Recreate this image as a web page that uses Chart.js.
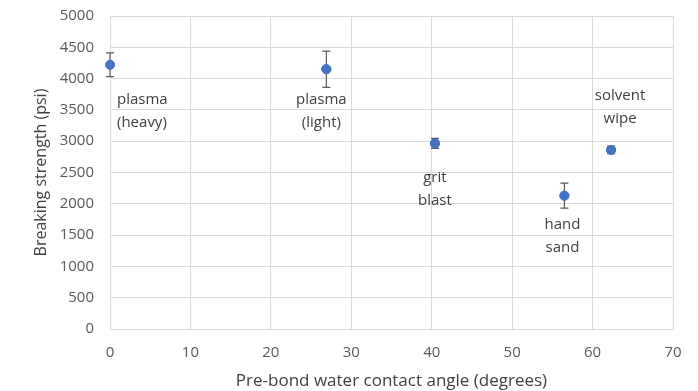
<!DOCTYPE html>
<html>
<head>
<meta charset="utf-8">
<script src="https://cdn.jsdelivr.net/npm/chart.js@4/dist/chart.umd.min.js"></script>
<style>
  html, body { margin: 0; padding: 0; background: #fff; }
  #wrap { width: 698px; height: 391px; }
</style>
</head>
<body>
<div id="wrap"><canvas id="chart" width="698" height="391"></canvas></div>
<script>
// ── DATA ──────────────────────────────────────────────
const treatments = [['plasma', '(heavy)'], ['plasma', '(light)'], ['grit', 'blast'], ['hand', 'sand'], ['solvent', 'wipe']];
const contactAngle = [0, 26.9, 40.4, 56.5, 62.3];
const strength = [4220, 4150, 2965, 2130, 2860];
const strengthErr = [190, 290, 80, 200, 60];
const xTicks = [0, 10, 20, 30, 40, 50, 60, 70];
const yTicks = [0, 500, 1000, 1500, 2000, 2500, 3000, 3500, 4000, 4500, 5000];

// label placement: 'right-below', 'below', 'above'
const labelPos = ['right-below', 'below', 'below', 'below', 'above'];

const FONT = "'Open Sans', 'Liberation Sans', sans-serif";

// ── PLUGIN: error bars + labels ───────────────────────
const errLabels = {
    id: 'errLabels',
    afterDatasetsDraw(chart) {
        const ctx = chart.ctx, xs = chart.scales.x, ys = chart.scales.y;
        ctx.save();
        // error bars
        ctx.strokeStyle = '#595959'; ctx.lineWidth = 1.2;
        contactAngle.forEach((a, i) => {
            const px = xs.getPixelForValue(a);
            const top = ys.getPixelForValue(strength[i] + strengthErr[i]);
            const bot = ys.getPixelForValue(strength[i] - strengthErr[i]);
            ctx.beginPath();
            ctx.moveTo(px, top); ctx.lineTo(px, bot);
            ctx.moveTo(px - 4, top); ctx.lineTo(px + 4, top);
            ctx.moveTo(px - 4, bot); ctx.lineTo(px + 4, bot);
            ctx.stroke();
        });
        // redraw points over bars
        chart.getDatasetMeta(0).data.forEach(p => p.draw(ctx));
        // labels
        ctx.fillStyle = '#404040';
        ctx.font = '15px ' + FONT;
        ctx.textBaseline = 'middle';
        contactAngle.forEach((a, i) => {
            const px = xs.getPixelForValue(a), py = ys.getPixelForValue(strength[i]);
            const lines = treatments[i];
            let x = px, y0, align = 'center';
            if (labelPos[i] === 'right-below') { x = px + 7; y0 = py + 35; align = 'left'; }
            else if (labelPos[i] === 'above') { x = px + 9; y0 = py - 54; }
            else { x = px - 5; y0 = py + 31; }
            if (i === 2) { x = px; y0 = py + 34; }
            if (i === 3) { x = px - 2; y0 = py + 29; }
            ctx.textAlign = align;
            lines.forEach((t, k) => ctx.fillText(t, x, y0 + k * 23));
        });
        ctx.restore();
    }
};

// ── CHART ─────────────────────────────────────────────
new Chart(document.getElementById('chart'), {
    type: 'scatter',
    data: {
        datasets: [{
            data: contactAngle.map((a, i) => ({ x: a, y: strength[i] })),
            backgroundColor: '#4472C4', borderColor: '#4472C4',
            pointRadius: 4.5, pointHoverRadius: 4.5
        }]
    },
    options: {
        responsive: false, animation: false,
        layout: { padding: { left: 0, top: 16, right: 25, bottom: 0 } },
        plugins: { legend: { display: false }, tooltip: { enabled: false } },
        scales: {
            x: {
                type: 'linear', min: 0, max: 70,
                afterBuildTicks: s => { s.ticks = xTicks.map(v => ({ value: v })); },
                afterFit: s => { s.height = 62; s.paddingLeft = 0; s.paddingRight = 0; },
                grid: { color: '#d9d9d9', drawTicks: false },
                border: { color: '#d9d9d9' },
                ticks: { color: '#595959', font: { family: FONT, size: 15 }, padding: 15, callback: v => String(v) },
                title: { display: true, text: 'Pre-bond water contact angle (degrees)', color: '#404040',
                    font: { family: FONT, size: 17 }, padding: { top: 0, bottom: 0 } }
            },
            y: {
                type: 'linear', min: 0, max: 5000,
                afterBuildTicks: s => { s.ticks = yTicks.map(v => ({ value: v })); },
                afterFit: s => { s.width = 110; s.paddingTop = 0; s.paddingBottom = 0; },
                grid: { color: '#d9d9d9', drawTicks: false },
                border: { color: '#d9d9d9' },
                ticks: { color: '#595959', font: { family: FONT, size: 15 }, padding: 16, callback: v => String(v) },
                title: { display: true, text: 'Breaking strength (psi)', color: '#404040',
                    font: { family: FONT, size: 16 }, padding: { top: 32, bottom: 0 } }
            }
        }
    },
    plugins: [errLabels]
});
</script>
</body>
</html>
